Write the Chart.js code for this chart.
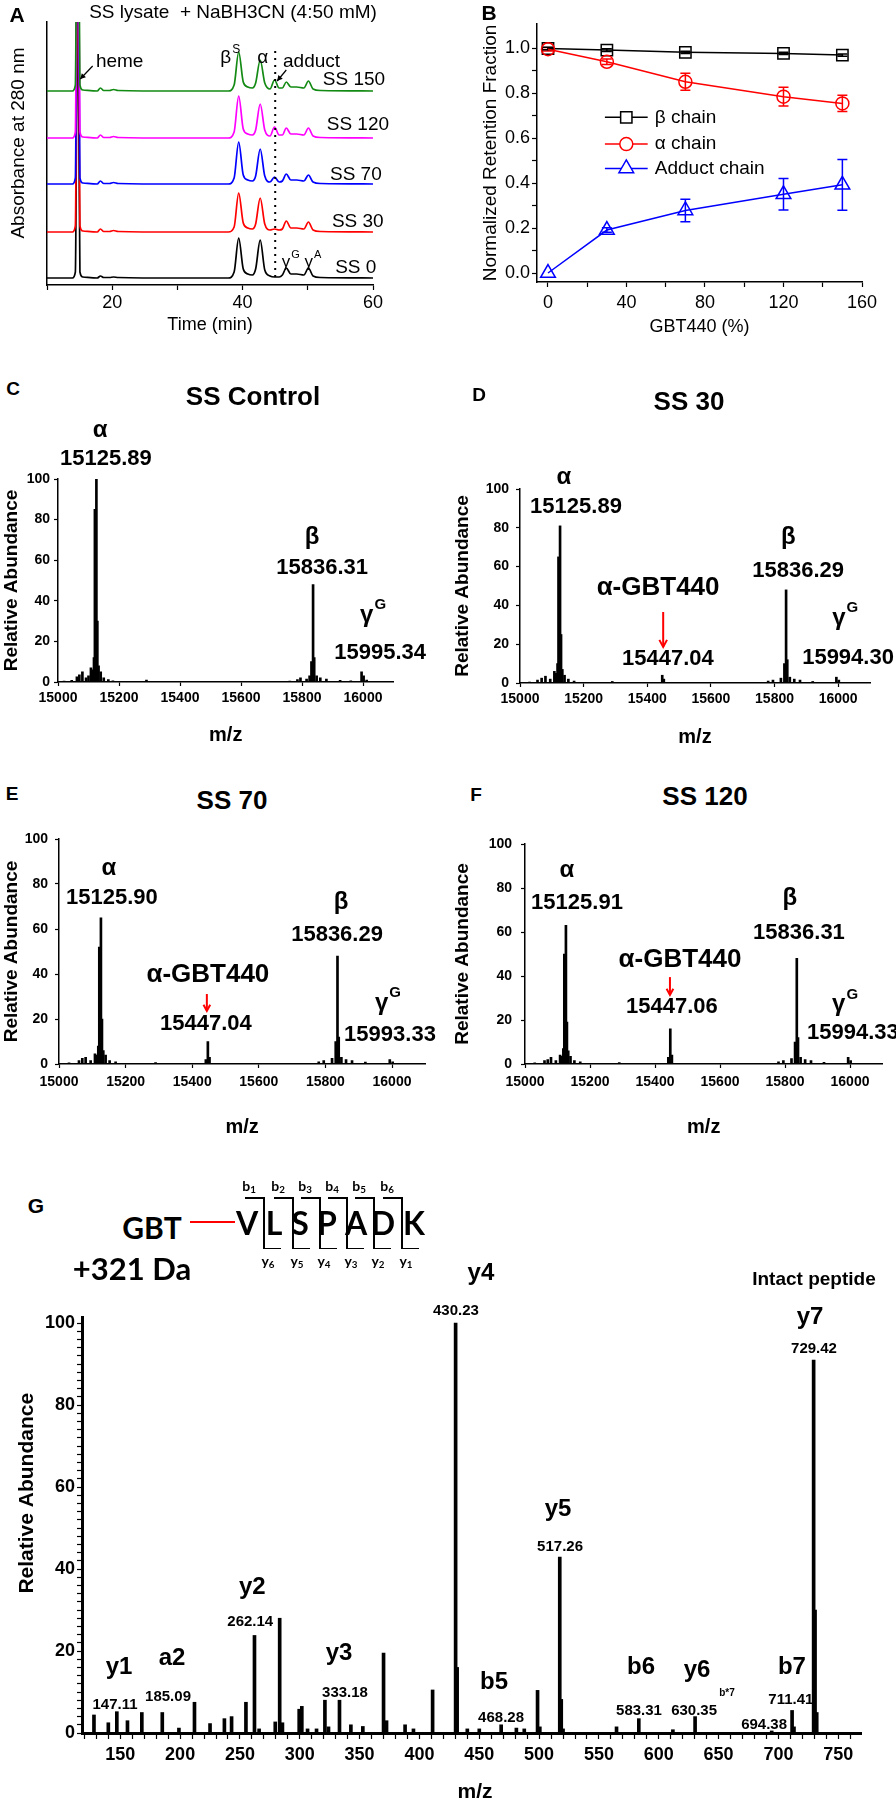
<!DOCTYPE html>
<html>
<head>
<meta charset="utf-8">
<script src="https://cdn.jsdelivr.net/npm/chart.js@4.4.1/dist/chart.umd.min.js"></script>
<style>
  body { margin: 0; background: #fff; }
  #page { position: relative; width: 896px; height: 1800px; overflow: hidden; background: #fff;
          font-family: 'Liberation Sans', Arial, sans-serif; color: #000; }
  #page canvas { position: absolute; }
  .t { position: absolute; transform: translate(-50%, -50%); line-height: 1; white-space: pre; }
  .ln { position: absolute; background: #000; }
  .t sub { font-size: 0.7em; vertical-align: -0.25em; }
</style>
</head>
<body>
<div id="page"></div>
<script>
// ---- A: chromatograms (absorbance above each trace's own baseline) ----
const chromTimes = [10, 13.9, 14.35, 14.7, 15.05, 15.5, 17.7, 18.2, 18.7, 19.6, 20.2, 20.9, 30,
  37.8, 38.7, 39.4, 40.1, 40.8, 41.5, 42.0, 42.7, 43.4, 44.2, 44.9, 45.6, 46.1, 46.7, 47.4,
  48.3, 49.4, 50.1, 50.8, 52, 60];
const chromSS150 = [0, 0, 6, 300, 6, 1, 0, 3, 0.5, 0.5, 1.5, 0.5, 0, 0, 6, 39, 9, 4, 3, 8, 31, 8, 2, 11, 3, 3, 9, 4, 4, 3, 10, 2, 0.5, 0];
const chromSS120 = [0, 0, 6, 300, 6, 1, 0, 3, 0.5, 0.5, 1.5, 0.5, 0, 0, 6, 42, 9, 4, 3, 8, 34, 8, 2, 11, 3, 3, 10, 4, 4, 3, 10, 2, 0.5, 0];
const chromSS70  = [0, 0, 6, 300, 6, 1, 0, 3, 0.5, 0.5, 1.5, 0.5, 0, 0, 6, 42, 9, 4, 3, 8, 35, 8, 2, 7, 2, 3, 10, 4, 4, 3, 9, 2, 0.5, 0];
const chromSS30  = [0, 0, 6, 300, 6, 1, 0, 3, 0.5, 0.5, 1.5, 0.5, 0, 0, 5, 39, 9, 4, 3, 8, 34, 8, 2, 3, 2, 3, 11, 4, 4, 3, 10, 2, 0.5, 0];
const chromSS0   = [0, 0, 6, 300, 6, 1, 0, 2, 0.5, 0.5, 1, 0.5, 0, 0, 6, 40, 9, 4, 3, 9, 38, 8, 2, 1, 1, 3, 10, 4, 4, 3, 10, 2, 0.5, 0];
const chromNames = ['SS 150', 'SS 120', 'SS 70', 'SS 30', 'SS 0'];
const chromOffsets = [194, 147, 101, 53, 7];
const timeTicks = [10, 20, 30, 40, 50, 60];
const timeLabels = [20, 40, 60];

// ---- B: retention fractions ----
const gbtDose = [0, 30, 70, 120, 150];
const alphaFrac = [0.995, 0.939, 0.850, 0.784, 0.754];
const alphaErr = [0.008, 0.012, 0.038, 0.042, 0.036];
const betaFrac = [0.998, 0.991, 0.981, 0.976, 0.969];
const betaErr = [0.006, 0.006, 0.005, 0.005, 0.005];
const adductFrac = [0.0, 0.191, 0.278, 0.350, 0.392];
const adductErr = [0, 0.01, 0.05, 0.07, 0.113];
const doseTicks = [0, 20, 40, 60, 80, 100, 120, 140, 160];
const doseLabels = [0, 40, 80, 120, 160];
const fracTicks = [0, 0.1, 0.2, 0.3, 0.4, 0.5, 0.6, 0.7, 0.8, 0.9, 1.0];
const fracLabels = [0, 0.2, 0.4, 0.6, 0.8, 1.0];

// ---- C-F: deconvoluted intact mass spectra ----
const mzTicks = [15000, 15200, 15400, 15600, 15800, 16000];
const abTicks = [0, 20, 40, 60, 80, 100];
const specC_mz = [15020, 15045, 15062, 15070, 15080, 15092, 15100, 15108, 15114, 15118, 15121, 15125.89, 15129, 15133, 15140, 15150, 15165, 15180, 15290,
  15760, 15785, 15795, 15815, 15825, 15831, 15836.31, 15840, 15848, 15860, 15880, 15925, 15960, 15995.34, 16002, 16012];
const specC_ab = [0.5, 0.8, 2.5, 3.5, 5, 2, 3, 7, 6, 12, 85, 100, 30, 8, 5, 2, 1.2, 0.6, 1,
  0.5, 1.2, 2, 1.5, 3, 10, 48, 12, 3, 2, 1.5, 0.8, 0.6, 5, 3, 1];
const specD_mz = [15030, 15055, 15068, 15080, 15095, 15108, 15114, 15118, 15121, 15125.89, 15129, 15133, 15140, 15152, 15170, 15290, 15447.04, 15452,
  15780, 15795, 15820, 15831, 15836.29, 15840, 15848, 15862, 15880, 15920, 15994.30, 16002];
const specD_ab = [0.5, 1.5, 2.5, 3.5, 2, 6, 5, 10, 65, 81, 25, 7, 4, 2, 1, 0.8, 4, 2,
  1, 1.5, 2.5, 10, 48, 12, 3, 2, 1.5, 0.8, 3, 1.5];
const specE_mz = [15030, 15060, 15070, 15080, 15095, 15108, 15114, 15118, 15121, 15125.90, 15129, 15133, 15140, 15152, 15170, 15290, 15441, 15447.04, 15452,
  15780, 15795, 15820, 15831, 15836.29, 15840, 15848, 15862, 15880, 15920, 15993.33, 16002];
const specE_ab = [0.5, 1.5, 2.5, 3, 1.5, 4.5, 4, 8, 52, 65, 20, 6, 4, 1.5, 1, 0.6, 2, 10, 3,
  1, 1.5, 2.5, 10, 48, 12, 3, 2, 1.5, 0.8, 2, 1];
const specF_mz = [15030, 15060, 15070, 15080, 15095, 15108, 15114, 15118, 15121, 15125.91, 15129, 15133, 15140, 15152, 15170, 15290, 15441, 15447.06, 15452,
  15780, 15795, 15820, 15831, 15836.31, 15840, 15848, 15862, 15880, 15920, 15994.33, 16002];
const specF_ab = [0.5, 1.5, 2, 3, 1.5, 4, 3.5, 7, 50, 63, 19, 6, 3.5, 1.5, 1, 0.6, 3, 16, 4,
  1, 1.5, 2.5, 10, 48, 12, 3, 2, 1.5, 0.8, 3, 1.5];

// ---- G: MS/MS of GBT-VLSPADK ----
const gMz = [128, 140, 147.11, 156, 168, 185.09, 199, 212, 225, 237, 243, 255, 262.14, 266, 279.5,
  283.2, 285.5, 299.5, 301.7, 306.5, 314, 321, 324, 333.18, 342.7, 352.7, 370, 372.5, 388, 395,
  411, 430.23, 431.5, 440, 450, 468.28, 481, 487.6, 498.7, 500.6, 517.26, 518.5, 520, 564.7, 583.31,
  611.8, 630.35, 694.38, 711.41, 713, 729.42, 730.6, 732];
const gAb = [4.4, 2.5, 5.2, 3, 5, 5, 1.2, 7.5, 2.3, 3.5, 4, 7.5, 23.8, 1, 2.7,
  28, 2.5, 5.8, 6.5, 1, 1, 8, 1.5, 8, 2, 1.6, 19.5, 3, 2, 1,
  10.5, 100, 16, 1, 1, 2, 1.2, 1, 10.4, 1.5, 42.9, 8.2, 1, 1.5, 3.5,
  0.8, 4, 0.5, 5.5, 1.5, 91, 30, 5];
const gXLabels = [150, 200, 250, 300, 350, 400, 450, 500, 550, 600, 650, 700, 750];
const gYLabels = [0, 20, 40, 60, 80, 100];
const peptide = ['V', 'L', 'S', 'P', 'A', 'D', 'K'];
const bIons = ['1', '2', '3', '4', '5', '6'];
const yIons = ['6', '5', '4', '3', '2', '1'];

const FAM = "'Liberation Sans', Arial, sans-serif";
Chart.defaults.font.family = FAM;
Chart.defaults.color = '#000';

const page = document.getElementById('page');

function makeCanvas(box) {
  const c = document.createElement('canvas');
  c.width = box[2]; c.height = box[3];
  c.style.left = box[0] + 'px'; c.style.top = box[1] + 'px';
  page.appendChild(c);
  return c;
}

function put(html, cx, cy, size, bold, family) {
  const d = document.createElement('div');
  d.className = 't';
  d.innerHTML = html;
  d.style.left = cx + 'px'; d.style.top = cy + 'px';
  d.style.fontSize = size + 'px';
  d.style.fontWeight = bold ? 'bold' : 'normal';
  if (family) d.style.fontFamily = family;
  page.appendChild(d);
}

function rule(x, y, w, h, color) {
  const d = document.createElement('div');
  d.className = 'ln';
  d.style.left = x + 'px'; d.style.top = y + 'px';
  d.style.width = w + 'px'; d.style.height = h + 'px';
  if (color) d.style.background = color;
  page.appendChild(d);
}

// base options: plot area placed by padding + fixed axis sizes
function base(box, plot) {
  return {
    animation: false, responsive: false, devicePixelRatio: 1, events: [],
    layout: { padding: { left: 0, top: plot[1] - box[1], right: box[0] + box[2] - plot[2], bottom: 0 } },
    plugins: { legend: { display: false }, tooltip: { enabled: false } }
  };
}

function axis(o) {
  const lab = o.labels || [];
  return {
    type: 'linear', min: o.min, max: o.max, offset: false,
    afterBuildTicks: s => { s.ticks = o.ticks.map(v => ({ value: v })); },
    afterFit: s => { if (s.isHorizontal()) s.height = o.size; else s.width = o.size; },
    border: { display: true, color: '#000', width: o.lineW || 1.5 },
    grid: { display: !o.noTicks, drawOnChartArea: false, drawTicks: true, offset: false,
            tickLength: o.tickLen || 5, tickWidth: o.tickW || 1.2, tickColor: '#000' },
    ticks: { display: !o.noLabels, autoSkip: false, maxRotation: 0, minRotation: 0,
             padding: o.tickPad || 3, font: o.font, color: '#000',
             callback: v => lab.includes(v) ? (o.fmt ? o.fmt(v) : String(v)) : '' },
    title: o.title ? { display: true, text: o.title, font: o.titleFont, color: '#000', padding: o.titlePad }
                   : { display: false }
  };
}

// text, arrows and marks placed in data units of each chart
function notes(items) {
  const draw = (chart, under) => {
    const { ctx } = chart;
    const X = v => chart.scales.x.getPixelForValue(v);
    const Y = v => chart.scales.y.getPixelForValue(v);
    ctx.save();
    for (const it of items) {
      if (!!it.under !== under) continue;
      const col = it.color || '#000';
      ctx.fillStyle = col; ctx.strokeStyle = col; ctx.setLineDash([]);
      if (it.kind === 'text' || it.kind === 'vtext') {
        const font = (it.bold ? 'bold ' : '') + it.size + 'px ' + FAM;
        const sfont = (it.bold ? 'bold ' : '') + Math.round(it.size * 0.62) + 'px ' + FAM;
        ctx.font = font;
        const w = ctx.measureText(it.text).width;
        let sw = 0;
        if (it.sup) { ctx.font = sfont; sw = ctx.measureText(it.sup).width + 1; }
        ctx.textBaseline = 'middle'; ctx.textAlign = 'left';
        ctx.save();
        ctx.translate(X(it.x), Y(it.y));
        if (it.kind === 'vtext') ctx.rotate(-Math.PI / 2);
        const x0 = it.align === 'left' ? 0 : -(w + sw) / 2;
        ctx.font = font; ctx.fillText(it.text, x0, 0);
        if (it.sup) { ctx.font = sfont; ctx.fillText(it.sup, x0 + w + 1, -it.size * 0.42); }
        ctx.restore();
      } else if (it.kind === 'line') {
        ctx.lineWidth = it.w || 1.5;
        if (it.dash) ctx.setLineDash(it.dash);
        ctx.beginPath(); ctx.moveTo(X(it.x1), Y(it.y1)); ctx.lineTo(X(it.x2), Y(it.y2)); ctx.stroke();
      } else if (it.kind === 'arrow') {
        const x1 = X(it.x1), y1 = Y(it.y1), x2 = X(it.x2), y2 = Y(it.y2), h = it.head || 6;
        const a = Math.atan2(y2 - y1, x2 - x1);
        ctx.lineWidth = it.w || 1.2;
        ctx.beginPath(); ctx.moveTo(x1, y1); ctx.lineTo(x2, y2); ctx.stroke();
        ctx.beginPath();
        ctx.moveTo(x2 - h * Math.cos(a - 0.5), y2 - h * Math.sin(a - 0.5));
        ctx.lineTo(x2, y2);
        ctx.lineTo(x2 - h * Math.cos(a + 0.5), y2 - h * Math.sin(a + 0.5));
        if (it.open) ctx.stroke(); else { ctx.closePath(); ctx.fill(); }
      } else if (it.kind === 'mark') {
        const x = X(it.x), y = Y(it.y), r = it.r;
        ctx.lineWidth = 1.5; ctx.beginPath();
        if (it.style === 'rect') { const s = r * Math.SQRT1_2; ctx.rect(x - s, y - s, 2 * s, 2 * s); }
        else if (it.style === 'circle') ctx.arc(x, y, r, 0, Math.PI * 2);
        else { ctx.moveTo(x, y - r); ctx.lineTo(x + r * 0.866, y + r * 0.5); ctx.lineTo(x - r * 0.866, y + r * 0.5); ctx.closePath(); }
        ctx.fillStyle = '#fff'; ctx.fill(); ctx.stroke();
      }
    }
    ctx.restore();
  };
  return { id: 'notes', beforeDatasetsDraw: c => draw(c, true), afterDraw: c => draw(c, false) };
}

const errorBars = {
  id: 'errorBars',
  beforeDatasetsDraw(chart) {
    const { ctx, scales: { x, y } } = chart;
    ctx.save();
    chart.data.datasets.forEach(ds => {
      ctx.strokeStyle = ds.borderColor; ctx.lineWidth = 1.5;
      ds.data.forEach((p, i) => {
        const e = ds.errorBars[i];
        if (!e) return;
        const px = x.getPixelForValue(p.x), t = y.getPixelForValue(p.y + e), b = y.getPixelForValue(p.y - e);
        ctx.beginPath();
        ctx.moveTo(px, t); ctx.lineTo(px, b);
        ctx.moveTo(px - 5, t); ctx.lineTo(px + 5, t);
        ctx.moveTo(px - 5, b); ctx.lineTo(px + 5, b);
        ctx.stroke();
      });
    });
    ctx.restore();
  }
};

// ================= A =================
const boxA = [0, 0, 448, 340], plotA = [47, 22, 373, 285];
const chromTraces = [chromSS150, chromSS120, chromSS70, chromSS30, chromSS0];
const chromColors = ['#138a13', '#ff00ff', '#0000ff', '#ff0000', '#000000'];
new Chart(makeCanvas(boxA), {
  type: 'line',
  data: {
    datasets: chromNames.map((n, i) => ({
      label: n,
      data: chromTimes.map((t, j) => ({ x: t, y: chromTraces[i][j] + chromOffsets[i] })),
      borderColor: chromColors[i], borderWidth: 1.7, pointRadius: 0,
      cubicInterpolationMode: 'monotone', fill: false
    }))
  },
  options: Object.assign(base(boxA, plotA), {
    scales: {
      x: axis({ min: 10, max: 60, ticks: timeTicks, labels: timeLabels, size: 55, font: { size: 18 },
                tickPad: 2, title: 'Time (min)', titleFont: { size: 18 }, titlePad: { top: 0, bottom: 4 } }),
      y: axis({ min: 0, max: 263, ticks: [0], noTicks: true, noLabels: true, size: 47 })
    }
  }),
  plugins: [notes([
    { kind: 'vtext', x: 5.63, y: 142, text: 'Absorbance at 280 nm', size: 19 },
    { kind: 'text', x: 17.5, y: 223, text: 'heme', size: 19, align: 'left' },
    { kind: 'arrow', x1: 17.0, y1: 219, x2: 15.1, y2: 206, head: 6 },
    { kind: 'text', x: 38.1, y: 227, text: 'β', sup: 'S', size: 19 },
    { kind: 'text', x: 43.1, y: 227, text: 'α', size: 19 },
    { kind: 'text', x: 46.2, y: 223, text: 'adduct', size: 19, align: 'left' },
    { kind: 'arrow', x1: 46.7, y1: 215, x2: 45.3, y2: 204, head: 6 },
    { kind: 'line', x1: 45, y1: 8, x2: 45, y2: 235, w: 2, dash: [2, 5] },
    { kind: 'text', x: 52.3, y: 205, text: 'SS 150', size: 19, align: 'left' },
    { kind: 'text', x: 52.9, y: 160, text: 'SS 120', size: 19, align: 'left' },
    { kind: 'text', x: 53.4, y: 110, text: 'SS 70', size: 19, align: 'left' },
    { kind: 'text', x: 53.7, y: 63, text: 'SS 30', size: 19, align: 'left' },
    { kind: 'text', x: 54.2, y: 17, text: 'SS 0', size: 19, align: 'left' },
    { kind: 'text', x: 47.4, y: 23, text: 'γ', sup: 'G', size: 17 },
    { kind: 'text', x: 50.8, y: 23, text: 'γ', sup: 'A', size: 17 }
  ])]
});

// ================= B =================
const boxB = [448, 0, 448, 340], plotB = [537, 24, 862, 282];
const seriesB = [
  { label: 'α chain', v: alphaFrac, e: alphaErr, color: '#ff0000', style: 'circle', r: 6.5 },
  { label: 'β chain', v: betaFrac, e: betaErr, color: '#000000', style: 'rect', r: 8 },
  { label: 'Adduct chain', v: adductFrac, e: adductErr, color: '#0000ff', style: 'triangle', r: 8.5 }
];
new Chart(makeCanvas(boxB), {
  type: 'line',
  data: {
    datasets: seriesB.map(s => ({
      label: s.label,
      data: gbtDose.map((d, i) => ({ x: d, y: s.v[i] })),
      errorBars: s.e,
      borderColor: s.color, borderWidth: 1.5, backgroundColor: 'rgba(0,0,0,0)',
      pointStyle: s.style, pointRadius: s.r, pointBorderWidth: 1.5,
      pointBackgroundColor: 'rgba(0,0,0,0)', clip: false
    }))
  },
  options: Object.assign(base(boxB, plotB), {
    scales: {
      x: axis({ min: -5.6, max: 160, ticks: doseTicks, labels: doseLabels, size: 58, font: { size: 18 },
                tickPad: 5, title: 'GBT440 (%)', titleFont: { size: 18 }, titlePad: { top: 0, bottom: 2 } }),
      y: axis({ min: -0.04, max: 1.107, ticks: fracTicks, labels: fracLabels, size: 89, font: { size: 18 },
                tickPad: 2, fmt: v => v.toFixed(1), title: 'Normalized Retention Fraction',
                titleFont: { size: 19 }, titlePad: { top: 31, bottom: 0 } })
    }
  }),
  plugins: [errorBars, notes([
    { kind: 'line', x1: 29, y1: 0.692, x2: 50.8, y2: 0.692, w: 1.5, color: '#000' },
    { kind: 'mark', style: 'rect', x: 39.9, y: 0.692, r: 8, color: '#000' },
    { kind: 'text', x: 54.4, y: 0.692, text: 'β chain', size: 19, align: 'left' },
    { kind: 'line', x1: 29, y1: 0.573, x2: 50.8, y2: 0.573, w: 1.5, color: '#ff0000' },
    { kind: 'mark', style: 'circle', x: 39.9, y: 0.573, r: 6.5, color: '#ff0000' },
    { kind: 'text', x: 54.4, y: 0.573, text: 'α chain', size: 19, align: 'left' },
    { kind: 'line', x1: 29, y1: 0.465, x2: 50.8, y2: 0.465, w: 1.5, color: '#0000ff' },
    { kind: 'mark', style: 'triangle', x: 39.9, y: 0.465, r: 8.5, color: '#0000ff' },
    { kind: 'text', x: 54.4, y: 0.465, text: 'Adduct chain', size: 19, align: 'left' }
  ])]
});

// ================= C-F =================
function spectrum(box, plot, mz, ab, o, items) {
  return new Chart(makeCanvas(box), {
    type: 'bar',
    data: { datasets: [{ data: mz.map((m, i) => ({ x: m, y: ab[i] })), backgroundColor: '#000', borderWidth: 0, barThickness: 2 }] },
    options: Object.assign(base(box, plot), {
      scales: {
        x: axis({ min: 15000, max: 16100, ticks: mzTicks, labels: mzTicks, size: box[1] + box[3] - plot[3],
                  font: { size: 14, weight: 'bold' }, tickLen: 4, tickPad: o.xTickPad,
                  title: 'm/z', titleFont: { size: 20, weight: 'bold' }, titlePad: { top: 0, bottom: o.xTitlePad } }),
        y: axis({ min: 0, max: 100, ticks: abTicks, labels: abTicks, size: plot[0] - box[0],
                  font: { size: 14, weight: 'bold' }, tickLen: 4, tickPad: o.yTickPad,
                  title: 'Relative Abundance', titleFont: { size: 19, weight: 'bold' }, titlePad: { top: o.yTitlePad, bottom: 0 } })
      }
    }),
    plugins: [notes(items)]
  });
}

spectrum([0, 405, 448, 355], [58, 479, 393.5, 682], specC_mz, specC_ab,
  { xTickPad: 3.6, xTitlePad: 13, yTickPad: 4, yTitlePad: 0 }, [
  { kind: 'text', x: 15138, y: 124, text: 'α', size: 24, bold: true },
  { kind: 'text', x: 15157, y: 110, text: '15125.89', size: 22, bold: true },
  { kind: 'text', x: 15833, y: 71, text: 'β', size: 24, bold: true },
  { kind: 'text', x: 15866, y: 56, text: '15836.31', size: 22, bold: true },
  { kind: 'text', x: 16033, y: 33, text: 'γ', sup: 'G', size: 24, bold: true },
  { kind: 'text', x: 16056, y: 14.3, text: '15995.34', size: 22, bold: true }
]);

spectrum([448, 405, 448, 355], [520, 489, 870, 683], specD_mz, specD_ab,
  { xTickPad: 3.6, xTitlePad: 11, yTickPad: 7, yTitlePad: 3.6 }, [
  { kind: 'text', x: 15138, y: 106, text: 'α', size: 24, bold: true },
  { kind: 'text', x: 15176, y: 91, text: '15125.89', size: 22, bold: true },
  { kind: 'text', x: 15843, y: 75, text: 'β', size: 24, bold: true },
  { kind: 'text', x: 15874, y: 58, text: '15836.29', size: 22, bold: true },
  { kind: 'text', x: 15434, y: 49, text: 'α-GBT440', size: 26, bold: true },
  { kind: 'arrow', x1: 15450, y1: 36.6, x2: 15450, y2: 18.6, w: 2, head: 8, open: true, color: '#ff0000' },
  { kind: 'text', x: 15465, y: 12.4, text: '15447.04', size: 22, bold: true },
  { kind: 'text', x: 16022, y: 33.5, text: 'γ', sup: 'G', size: 24, bold: true },
  { kind: 'text', x: 16031, y: 13, text: '15994.30', size: 22, bold: true }
]);

spectrum([0, 820, 448, 340], [59, 839, 425.3, 1064], specE_mz, specE_ab,
  { xTickPad: 5.6, xTitlePad: 21, yTickPad: 7, yTitlePad: 0 }, [
  { kind: 'text', x: 15150, y: 87, text: 'α', size: 24, bold: true },
  { kind: 'text', x: 15159, y: 73.8, text: '15125.90', size: 22, bold: true },
  { kind: 'text', x: 15847, y: 72, text: 'β', size: 24, bold: true },
  { kind: 'text', x: 15835, y: 57.3, text: '15836.29', size: 22, bold: true },
  { kind: 'text', x: 15447, y: 39.6, text: 'α-GBT440', size: 26, bold: true },
  { kind: 'arrow', x1: 15444, y1: 31.1, x2: 15444, y2: 23.6, w: 2, head: 7, open: true, color: '#ff0000' },
  { kind: 'text', x: 15441, y: 17.8, text: '15447.04', size: 22, bold: true },
  { kind: 'text', x: 15988, y: 27, text: 'γ', sup: 'G', size: 24, bold: true },
  { kind: 'text', x: 15994, y: 12.9, text: '15993.33', size: 22, bold: true }
]);

spectrum([448, 820, 448, 340], [525, 844, 882.5, 1064], specF_mz, specF_ab,
  { xTickPad: 5.6, xTitlePad: 21, yTickPad: 9, yTitlePad: 3.6 }, [
  { kind: 'text', x: 15129, y: 88, text: 'α', size: 24, bold: true },
  { kind: 'text', x: 15160, y: 73, text: '15125.91', size: 22, bold: true },
  { kind: 'text', x: 15815, y: 75.5, text: 'β', size: 24, bold: true },
  { kind: 'text', x: 15843, y: 59.5, text: '15836.31', size: 22, bold: true },
  { kind: 'text', x: 15477, y: 47.3, text: 'α-GBT440', size: 26, bold: true },
  { kind: 'arrow', x1: 15446, y1: 39.5, x2: 15446, y2: 31.4, w: 2, head: 7, open: true, color: '#ff0000' },
  { kind: 'text', x: 15452, y: 26, text: '15447.06', size: 22, bold: true },
  { kind: 'text', x: 15985, y: 27, text: 'γ', sup: 'G', size: 24, bold: true },
  { kind: 'text', x: 16009, y: 14, text: '15994.33', size: 22, bold: true }
]);

// ================= G =================
const gXTicks = [], gYTicks = [];
for (let v = 120; v <= 760; v += 10) gXTicks.push(v);
for (let v = 0; v <= 100; v += 2) gYTicks.push(v);
const boxG = [0, 1245, 896, 555], plotG = [82, 1317, 861, 1733];
new Chart(makeCanvas(boxG), {
  type: 'bar',
  data: { datasets: [{ data: gMz.map((m, i) => ({ x: m, y: gAb[i] })), backgroundColor: '#000', borderWidth: 0, barThickness: 3 }] },
  options: Object.assign(base(boxG, plotG), {
    scales: {
      x: axis({ min: 118, max: 769, ticks: gXTicks, labels: gXLabels, size: 67, lineW: 3, tickLen: 6,
                font: { size: 18, weight: 'bold' }, tickPad: 5 }),
      y: axis({ min: 0, max: 101.5, ticks: gYTicks, labels: gYLabels, size: 82, lineW: 3, tickLen: 5,
                font: { size: 18, weight: 'bold' }, tickPad: 2 })
    }
  }),
  plugins: [notes([
    { kind: 'vtext', x: 72, y: 58.5, text: 'Relative Abundance', size: 21, bold: true },
    { kind: 'text', x: 446.4, y: -14.4, text: 'm/z', size: 21, bold: true },
    { kind: 'text', x: 451.4, y: 112.2, text: 'y4', size: 24, bold: true },
    { kind: 'text', x: 430.5, y: 102.9, text: '430.23', size: 15, bold: true },
    { kind: 'text', x: 729.7, y: 110.7, text: 'Intact peptide', size: 19, bold: true },
    { kind: 'text', x: 726.4, y: 101.5, text: 'y7', size: 24, bold: true },
    { kind: 'text', x: 729.7, y: 93.7, text: '729.42', size: 15, bold: true },
    { kind: 'text', x: 515.8, y: 54.6, text: 'y5', size: 24, bold: true },
    { kind: 'text', x: 517.5, y: 45.4, text: '517.26', size: 15, bold: true },
    { kind: 'text', x: 462.3, y: 12.4, text: 'b5', size: 24, bold: true },
    { kind: 'text', x: 468.2, y: 3.7, text: '468.28', size: 15, bold: true },
    { kind: 'text', x: 585.2, y: 16.1, text: 'b6', size: 24, bold: true },
    { kind: 'text', x: 583.5, y: 5.4, text: '583.31', size: 15, bold: true },
    { kind: 'text', x: 632, y: 15.4, text: 'y6', size: 24, bold: true },
    { kind: 'text', x: 629.5, y: 5.4, text: '630.35', size: 15, bold: true },
    { kind: 'text', x: 657, y: 9.8, text: 'b*7', size: 10, bold: true },
    { kind: 'text', x: 711.3, y: 16.1, text: 'b7', size: 24, bold: true },
    { kind: 'text', x: 710.4, y: 8, text: '711.41', size: 15, bold: true, under: true },
    { kind: 'text', x: 688, y: 2, text: '694.38', size: 15, bold: true },
    { kind: 'text', x: 260.3, y: 35.6, text: 'y2', size: 24, bold: true },
    { kind: 'text', x: 258.6, y: 27.1, text: '262.14', size: 15, bold: true },
    { kind: 'text', x: 332.8, y: 19.5, text: 'y3', size: 24, bold: true },
    { kind: 'text', x: 337.8, y: 9.8, text: '333.18', size: 15, bold: true },
    { kind: 'text', x: 148.9, y: 15.9, text: 'y1', size: 24, bold: true },
    { kind: 'text', x: 145.6, y: 6.8, text: '147.11', size: 15, bold: true },
    { kind: 'text', x: 193.2, y: 18.3, text: 'a2', size: 24, bold: true },
    { kind: 'text', x: 189.9, y: 8.8, text: '185.09', size: 15, bold: true }
  ])]
});

// ================= page text =================
put('A', 17, 14, 21, true);
put('SS lysate  + NaBH3CN (4:50 mM)', 233, 11, 19, false);
put('B', 489, 12, 21, true);
put('C', 13, 388, 19, true);
put('SS Control', 253, 396, 26, true);
put('D', 479, 394, 19, true);
put('SS 30', 689, 401, 26, true);
put('E', 12, 793, 19, true);
put('SS 70', 232, 800, 26, true);
put('F', 476, 794, 19, true);
put('SS 120', 705, 796, 26, true);
put('G', 36, 1205, 21, true);

// G peptide diagram
const LATO = "Lato, 'Liberation Sans', sans-serif";
put('GBT', 152, 1227, 30, true, LATO);
put('+321 Da', 132, 1268, 31, true, LATO);
rule(190, 1221, 45, 2, '#ff0000');
const letterX = [247, 274, 300, 327, 356, 383, 414];
const sepX = [263, 292, 319, 346, 373, 401];
peptide.forEach((p, i) => put(p, letterX[i], 1223, 32, true, LATO));
sepX.forEach((x, i) => {
  rule(x - 18, 1197, 18, 1.5);
  rule(x, 1197, 1.5, 52);
  rule(x, 1247.5, 18, 1.5);
  put('b<sub>' + bIons[i] + '</sub>', x - 14, 1187, 14, true, LATO);
  put('y<sub>' + yIons[i] + '</sub>', x + 5, 1262, 14, true, LATO);
});
</script>
</body>
</html>
